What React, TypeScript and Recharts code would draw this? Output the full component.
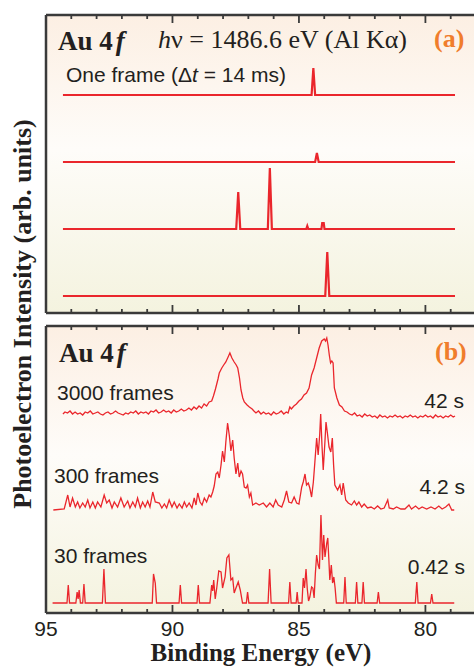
import React from "react";
import { ComposedChart, Line, XAxis, YAxis, CartesianGrid } from "recharts";

// binding energy axis (eV), drawn high -> low
const ENERGY_DOMAIN = [78, 95];
const MAJOR_TICKS = [95, 90, 85, 80];
const ALL_TICKS = [95, 94, 93, 92, 91, 90, 89, 88, 87, 86, 85, 84, 83, 82, 81, 80, 79];

// (a) single frames: [binding energy, counts above baseline]
const FRAME_1 = [[94.33, 0], [84.5, 0], [84.43, 27], [84.36, 0], [78.83, 0]];
const FRAME_2 = [[94.33, 0], [84.36, 0], [84.29, 9], [84.22, 0], [78.83, 0]];
const FRAME_3 = [
  [94.33, 0], [87.48, 0], [87.4, 37], [87.32, 0], [86.23, 0], [86.15, 61], [86.07, 0],
  [84.71, 0], [84.67, 3], [84.63, 0], [84.11, 0], [84.08, 6], [84.02, 6], [83.99, 0], [78.83, 0],
];
const FRAME_4 = [[94.33, 0], [83.96, 0], [83.88, 44], [83.8, 0], [78.83, 0]];

// (b) summed frames
const SUM_3000 = [
  [94.33, -1], [94.25, 1], [94.15, 0], [94.05, 2], [93.95, -1], [93.85, 1], [93.75, -1], [93.65, 0],
  [93.55, -2], [93.45, 1], [93.35, 0], [93.25, 2], [93.15, -1], [93.05, 0], [92.95, 1], [92.85, -1],
  [92.75, -2], [92.65, 0], [92.55, 1], [92.45, -1], [92.35, 0], [92.25, 2], [92.15, 0], [92.05, -1],
  [91.95, -2], [91.85, 0], [91.75, -1], [91.65, 1], [91.55, 0], [91.45, 2], [91.35, -1], [91.25, 1],
  [91.15, 0], [91.05, 1], [90.95, -1], [90.85, 2], [90.75, 1], [90.65, 3], [90.55, 0], [90.45, 1],
  [90.35, 3], [90.25, 1], [90.15, 2], [90.05, 0], [89.95, 3], [89.85, 1], [89.75, 2], [89.65, 4],
  [89.55, 2], [89.45, 3], [89.35, 5], [89.25, 3], [89.15, 6], [89.05, 4], [88.95, 7], [88.85, 5],
  [88.75, 9], [88.65, 7], [88.55, 11], [88.45, 12], [88.38, 17], [88.3, 24], [88.2, 34],
  [88.15, 40], [88.05, 45], [87.95, 49], [87.89, 51], [87.8, 56], [87.73, 60], [87.65, 55],
  [87.56, 51], [87.48, 48], [87.42, 45], [87.35, 35], [87.29, 23], [87.22, 15], [87.16, 11],
  [87.05, 8], [86.96, 6], [86.85, 4], [86.78, 2], [86.7, 0], [86.6, 2], [86.5, -1], [86.4, 1],
  [86.3, -1], [86.2, 0], [86.1, -2], [86.0, 1], [85.9, -1], [85.8, 0], [85.7, 2], [85.6, -1],
  [85.5, 1], [85.43, 0], [85.36, 6], [85.3, 4], [85.2, 7], [85.1, 9], [85.0, 12], [84.9, 14],
  [84.8, 18], [84.7, 20], [84.6, 25], [84.5, 38], [84.4, 45], [84.3, 55], [84.2, 65], [84.1, 72],
  [84.0, 74], [83.95, 72], [83.9, 75], [83.85, 68], [83.8, 58], [83.75, 50], [83.7, 52],
  [83.65, 50], [83.6, 25], [83.5, 15], [83.4, 8], [83.3, 6], [83.2, 2], [83.1, 1], [83.0, -1],
  [82.9, -2], [82.8, 0], [82.7, -3], [82.6, -2], [82.5, -4], [82.4, -1], [82.3, -3], [82.2, -2],
  [82.1, -4], [82.0, -3], [81.9, -5], [81.8, -2], [81.7, -4], [81.6, -3], [81.5, -5], [81.4, -3],
  [81.3, -4], [81.2, -2], [81.1, -4], [81.0, -3], [80.9, -5], [80.8, -3], [80.7, -4], [80.6, -2],
  [80.5, -4], [80.4, -3], [80.3, -5], [80.2, -3], [80.1, -4], [80.0, -2], [79.9, -4], [79.8, -3],
  [79.7, -5], [79.6, -2], [79.5, -4], [79.4, -3], [79.3, -5], [79.2, -3], [79.1, -4], [79.0, -2],
  [78.9, -4], [78.83, -3],
];

const SUM_300 = [
  [94.71, 0], [94.28, 1], [94.14, 15], [94.05, 3], [93.95, 12], [93.84, 3], [93.75, 8], [93.66, 2],
  [93.55, 7], [93.45, 3], [93.35, 10], [93.26, 2], [93.15, 8], [93.05, 2], [92.96, 8], [92.83, 3],
  [92.7, 15], [92.6, 7], [92.5, 10], [92.39, 2], [92.3, 8], [92.17, 3], [92.04, 12], [91.91, 3],
  [91.77, 9], [91.68, 2], [91.57, 8], [91.47, 3], [91.38, 12], [91.27, 2], [91.18, 8], [91.08, 3],
  [90.98, 9], [90.89, 3], [90.78, 18], [90.68, 8], [90.52, 7], [90.42, 2], [90.32, 6], [90.23, 2],
  [90.13, 10], [90.02, 3], [89.93, 8], [89.82, 2], [89.73, 6], [89.62, 2], [89.53, 8], [89.44, 3],
  [89.34, 7], [89.23, 2], [89.14, 12], [89.07, 5], [89.0, 17], [88.91, 8], [88.83, 5], [88.74, 12],
  [88.65, 8], [88.55, 15], [88.48, 13], [88.41, 18], [88.35, 24], [88.28, 36], [88.21, 38],
  [88.15, 32], [88.08, 45], [88.02, 59], [87.95, 48], [87.89, 68], [87.82, 87], [87.75, 74],
  [87.69, 59], [87.62, 70], [87.56, 52], [87.49, 36], [87.42, 47], [87.36, 33], [87.29, 39],
  [87.23, 36], [87.16, 23], [87.09, 22], [87.03, 25], [86.96, 13], [86.9, 17], [86.83, 5],
  [86.7, 7], [86.57, 5], [86.41, 7], [86.28, 3], [86.15, 7], [86.02, 3], [85.92, 10], [85.82, 5],
  [85.68, 3], [85.58, 10], [85.49, 19], [85.4, 8], [85.29, 7], [85.19, 13], [85.09, 7], [85.0, 6],
  [84.89, 23], [84.83, 28], [84.76, 36], [84.7, 25], [84.63, 27], [84.57, 22], [84.5, 13],
  [84.43, 28], [84.37, 48], [84.3, 72], [84.24, 55], [84.18, 75], [84.14, 96], [84.09, 65],
  [84.04, 40], [83.98, 65], [83.93, 88], [83.88, 78], [83.81, 63], [83.74, 58], [83.68, 72],
  [83.63, 45], [83.58, 25], [83.47, 20], [83.38, 25], [83.31, 15], [83.25, 27], [83.15, 10],
  [83.05, 7], [82.92, 5], [82.81, 9], [82.72, 5], [82.63, 8], [82.52, 3], [82.42, 6], [82.29, 2],
  [82.15, 3], [82.02, 1], [81.89, 4], [81.76, 1], [81.63, 2], [81.49, 10], [81.43, 2], [81.27, 1],
  [81.14, 3], [80.97, 1], [80.81, 1], [80.65, 5], [80.55, 1], [80.39, 4], [80.26, 1], [80.13, 3],
  [79.95, 1], [79.78, 3], [79.62, 1], [79.47, 4], [79.34, 1], [79.2, 3], [79.07, 6], [78.96, 0],
  [78.86, 0],
];

const SUM_30 = [
  [94.74, 0], [94.17, 0], [94.12, 18], [94.07, 0], [93.82, 0], [93.77, 11], [93.73, 4], [93.69, 13],
  [93.64, 0], [93.55, 0], [93.5, 19], [93.45, 0], [92.77, 0], [92.71, 34], [92.65, 0], [90.8, 0],
  [90.75, 29], [90.68, 20], [90.63, 0], [89.74, 0], [89.69, 18], [89.64, 0], [89.03, 0], [88.98, 18],
  [88.93, 0], [88.52, 0], [88.45, 18], [88.41, 12], [88.37, 23], [88.31, 4], [88.25, 15], [88.17, 32],
  [88.08, 31], [88.02, 15], [87.92, 26], [87.85, 45], [87.77, 48], [87.69, 23], [87.62, 25],
  [87.56, 10], [87.49, 15], [87.4, 21], [87.32, 13], [87.23, 0], [87.08, 0], [87.03, 11], [86.98, 0],
  [86.22, 0], [86.16, 34], [86.1, 0], [85.41, 0], [85.36, 21], [85.31, 0], [85.11, 0], [85.07, 11],
  [85.03, 0], [84.88, 0], [84.83, 25], [84.78, 15], [84.72, 34], [84.67, 14], [84.62, 2], [84.57, 6],
  [84.5, 16], [84.45, 15], [84.4, 5], [84.35, 30], [84.3, 48], [84.24, 38], [84.19, 34], [84.13, 88],
  [84.07, 43], [84.02, 68], [83.97, 46], [83.9, 60], [83.86, 65], [83.82, 45], [83.78, 23],
  [83.72, 38], [83.67, 20], [83.62, 26], [83.57, 15], [83.52, 0], [83.23, 0], [83.18, 26], [83.13, 0],
  [82.77, 0], [82.72, 21], [82.67, 0], [82.51, 0], [82.46, 21], [82.41, 0], [81.91, 0], [81.86, 11],
  [81.81, 0], [80.4, 0], [80.34, 21], [80.29, 0], [79.8, 0], [79.75, 9], [79.7, 0], [78.86, 0],
];

const RED = "#ea262c";
const FRAME = "#3a3a3a";
const INK = "#231f20";
const ORANGE = "#f07d2c";
const SANS = "'Liberation Sans', Arial, sans-serif";
const SERIF = "'Liberation Serif', 'Times New Roman', serif";

// vertical stacking of the traces (plot units)
const PANEL_A_HEIGHT = 298;
const PANEL_B_HEIGHT = 287;
const OFFSETS_A = [218, 151, 84, 17];
const OFFSETS_B = [200, 103, 10];

const toRows = (pts: number[][], offset: number) => pts.map(([e, v]) => ({ e, v: v + offset }));

// inward tick: long on major values, short on the rest; optional label below
function TickMark({ x, y, payload, side, labels }: any) {
  const major = MAJOR_TICKS.includes(payload.value);
  const len = major ? 8 : 4;
  const dir = side === "top" ? 1 : -1;
  return (
    <g>
      <line x1={x} x2={x} y1={y} y2={y + dir * len} stroke={FRAME} strokeWidth={1.8} />
      {labels && major && (
        <text x={x} y={y + 23} textAnchor="middle" fontFamily={SANS} fontSize={21} fill={INK}>
          {payload.value}
        </text>
      )}
    </g>
  );
}

function Panel({ id, traces, offsets, yMax, strokeWidth, height, margin, bottomHeight, labels }: any) {
  const axisLine = { stroke: FRAME, strokeWidth: 2.5 };
  const common = {
    type: "number" as const, dataKey: "e", domain: ENERGY_DOMAIN, reversed: true,
    allowDataOverflow: true, ticks: ALL_TICKS, interval: 0, tickSize: 0, tickMargin: 0,
    tickLine: false, axisLine,
  };
  return (
    <ComposedChart width={480} height={height} margin={margin}>
      <defs>
        <linearGradient id={`bg${id}`} x1="0" y1="0" x2="0" y2="1">
          <stop offset="0%" stopColor="#fcefe3" />
          <stop offset="45%" stopColor="#fefcf9" />
          <stop offset="100%" stopColor="#f4f3df" />
        </linearGradient>
      </defs>
      <CartesianGrid xAxisId="b" yAxisId="l" horizontal={false} vertical={false} fill={`url(#bg${id})`} stroke="none" />
      <XAxis xAxisId="b" orientation="bottom" height={bottomHeight} {...common}
        tick={(p: any) => <TickMark {...p} side="bottom" labels={labels} />} />
      <XAxis xAxisId="t" orientation="top" height={10} {...common}
        tick={(p: any) => <TickMark {...p} side="top" />} />
      <YAxis yAxisId="l" type="number" domain={[0, yMax]} allowDataOverflow width={46} tick={false} tickLine={false} axisLine={axisLine} />
      <YAxis yAxisId="r" orientation="right" type="number" domain={[0, yMax]} allowDataOverflow width={4} tick={false} tickLine={false} axisLine={axisLine} />
      {traces.map((t: number[][], i: number) => (
        <Line key={i} xAxisId="b" yAxisId="l" data={toRows(t, offsets[i])} dataKey="v" type="linear"
          stroke={RED} strokeWidth={strokeWidth} dot={false} activeDot={false} isAnimationActive={false} />
      ))}
    </ComposedChart>
  );
}

export default function App() {
  return (
    <div style={{ position: "absolute", left: 0, top: 0, width: 474, height: 668, overflow: "hidden", background: "#fff" }}>
      <div style={{ position: "absolute", left: 0, top: 0 }}>
        <Panel id="A" traces={[FRAME_1, FRAME_2, FRAME_3, FRAME_4]} offsets={OFFSETS_A} yMax={PANEL_A_HEIGHT}
          strokeWidth={2.2} height={320} bottomHeight={7} margin={{ top: 5, right: 0, bottom: 0, left: 0 }} />
      </div>
      <div style={{ position: "absolute", left: 0, top: 310 }}>
        <Panel id="B" traces={[SUM_3000, SUM_300, SUM_30]} offsets={OFFSETS_B} yMax={PANEL_B_HEIGHT}
          strokeWidth={1.3} height={358} bottomHeight={55} margin={{ top: 6, right: 0, bottom: 0, left: 0 }} labels />
      </div>
      <svg width={474} height={668} style={{ position: "absolute", left: 0, top: 0, pointerEvents: "none" }}>
        <g fontFamily={SERIF} fill={INK}>
          <text x={58} y={50} fontSize={27} fontWeight="bold">Au 4<tspan dx={3} fontStyle="italic">f</tspan></text>
          <text x={158} y={48} fontSize={26}><tspan fontStyle="italic">h</tspan>ν = 1486.6 eV (Al Kα)</text>
          <text x={434} y={47} fontSize={26} fontWeight="bold" fill={ORANGE}>(a)</text>
          <text x={59} y={362} fontSize={27} fontWeight="bold">Au 4<tspan dx={3} fontStyle="italic">f</tspan></text>
          <text x={435} y={360} fontSize={26} fontWeight="bold" fill={ORANGE}>(b)</text>
          <text x={261} y={661} fontSize={25} fontWeight="bold" textAnchor="middle">Binding Energy (eV)</text>
          <text transform="translate(31,314) rotate(-90)" fontSize={26} fontWeight="bold" textAnchor="middle">Photoelectron Intensity (arb. units)</text>
        </g>
        <g fontFamily={SANS} fill={INK} fontSize={21}>
          <text x={66} y={82}>One frame (Δ<tspan fontStyle="italic">t</tspan> = 14 ms)</text>
          <text x={57} y={400}>3000 frames</text>
          <text x={464} y={408} textAnchor="end">42 s</text>
          <text x={54} y={483}>300 frames</text>
          <text x={465} y={494} textAnchor="end">4.2 s</text>
          <text x={54} y={563}>30 frames</text>
          <text x={465} y={574} textAnchor="end">0.42 s</text>
        </g>
      </svg>
    </div>
  );
}
